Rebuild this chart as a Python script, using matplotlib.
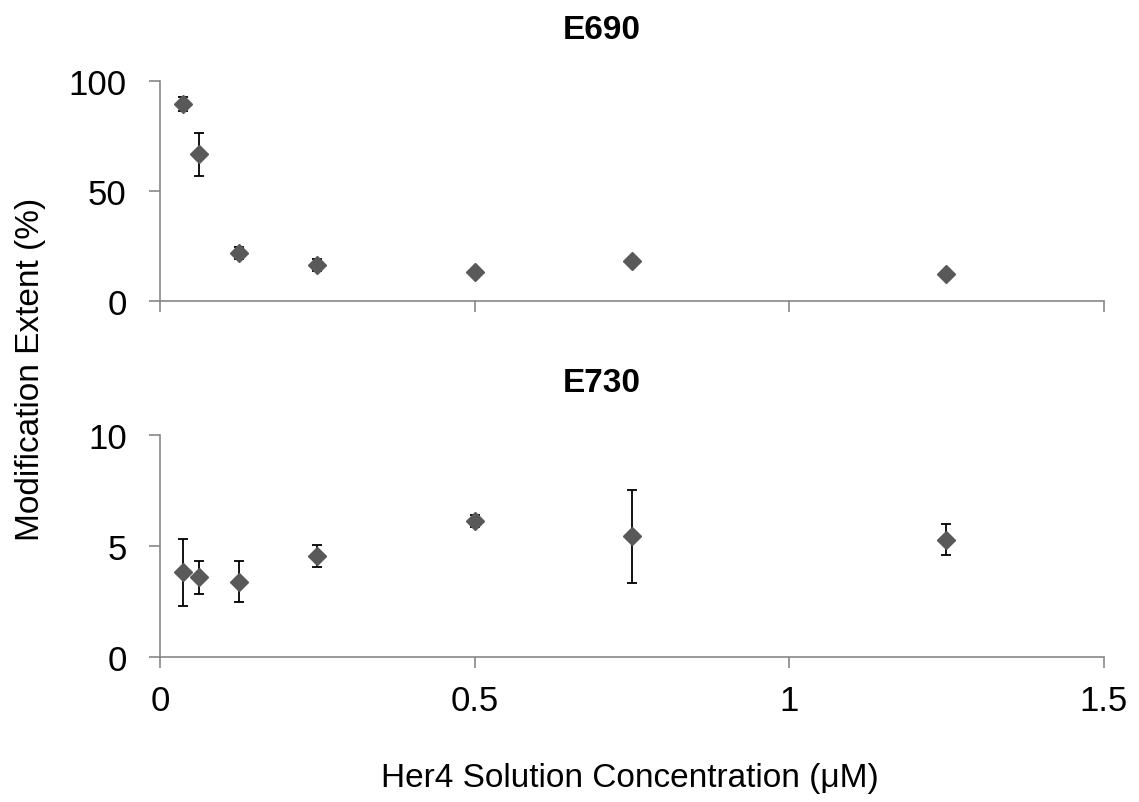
import numpy as np
import matplotlib.pyplot as plt

plt.rcParams['font.family'] = ['Liberation Sans', 'DejaVu Sans']

# Her4 concentration (uM)
conc = [0.036, 0.0625, 0.125, 0.25, 0.5, 0.75, 1.25]

# E690 modification extent (%)
e690 = [89.7, 66.8, 22.0, 16.6, 13.2, 18.2, 12.4]
e690_err = [3.3, 9.9, 2.6, 2.8, 1.2, 1.0, 0.8]

# E730 modification extent (%)
e730 = [3.80, 3.58, 3.38, 4.55, 6.10, 5.42, 5.27]
e730_err = [1.50, 0.74, 0.91, 0.50, 0.26, 2.10, 0.69]

spine_col = "#878787"
mk_col = "#595959"

fig = plt.figure(figsize=(11.39, 8.03), dpi=100)
ax1 = fig.add_axes([0.1405, 0.6235, 0.8285, 0.274])
ax2 = fig.add_axes([0.1405, 0.181, 0.8285, 0.2765])

def style(ax, ymax, yticks, show_xlabels):
    ax.set_xlim(0, 1.5)
    ax.set_ylim(0, ymax)
    ax.set_xticks([0, 0.5, 1, 1.5])
    ax.set_xticklabels(["0", "0.5", "1", "1.5"] if show_xlabels else [])
    ax.set_yticks(yticks)
    for s in ["top", "right"]:
        ax.spines[s].set_visible(False)
    for s in ["left", "bottom"]:
        ax.spines[s].set_color(spine_col)
        ax.spines[s].set_linewidth(1.2)
    ax.tick_params(axis="both", direction="out", length=8, width=1.2,
                   color=spine_col, labelsize=25, labelcolor="black")
    ax.tick_params(axis="y", pad=16)
    ax.tick_params(axis="x", pad=12)

ax1.errorbar(conc, e690, yerr=e690_err, fmt="D", color=mk_col, ms=9,
             ecolor="black", elinewidth=1.3, capsize=3.6, capthick=1.3,
             clip_on=False, zorder=3)
style(ax1, 100, [0, 50, 100], False)

ax2.errorbar(conc, e730, yerr=e730_err, fmt="D", color=mk_col, ms=9,
             ecolor="black", elinewidth=1.3, capsize=3.6, capthick=1.3,
             clip_on=False, zorder=3)
style(ax2, 10, [0, 5, 10], True)

fig.text(0.5285, 0.9626, "E690", fontsize=24, fontweight="bold",
         ha="center", va="center")
fig.text(0.5285, 0.523, "E730", fontsize=24, fontweight="bold",
         ha="center", va="center")

fig.text(0.553, 0.031, "Her4 Solution Concentration (\u03bcM)", fontsize=24,
         ha="center", va="center")
fig.text(0.027, 0.54, "Modification Extent (%)", fontsize=24,
         rotation=90, ha="center", va="center")

fig.savefig("out.png", dpi=100)
